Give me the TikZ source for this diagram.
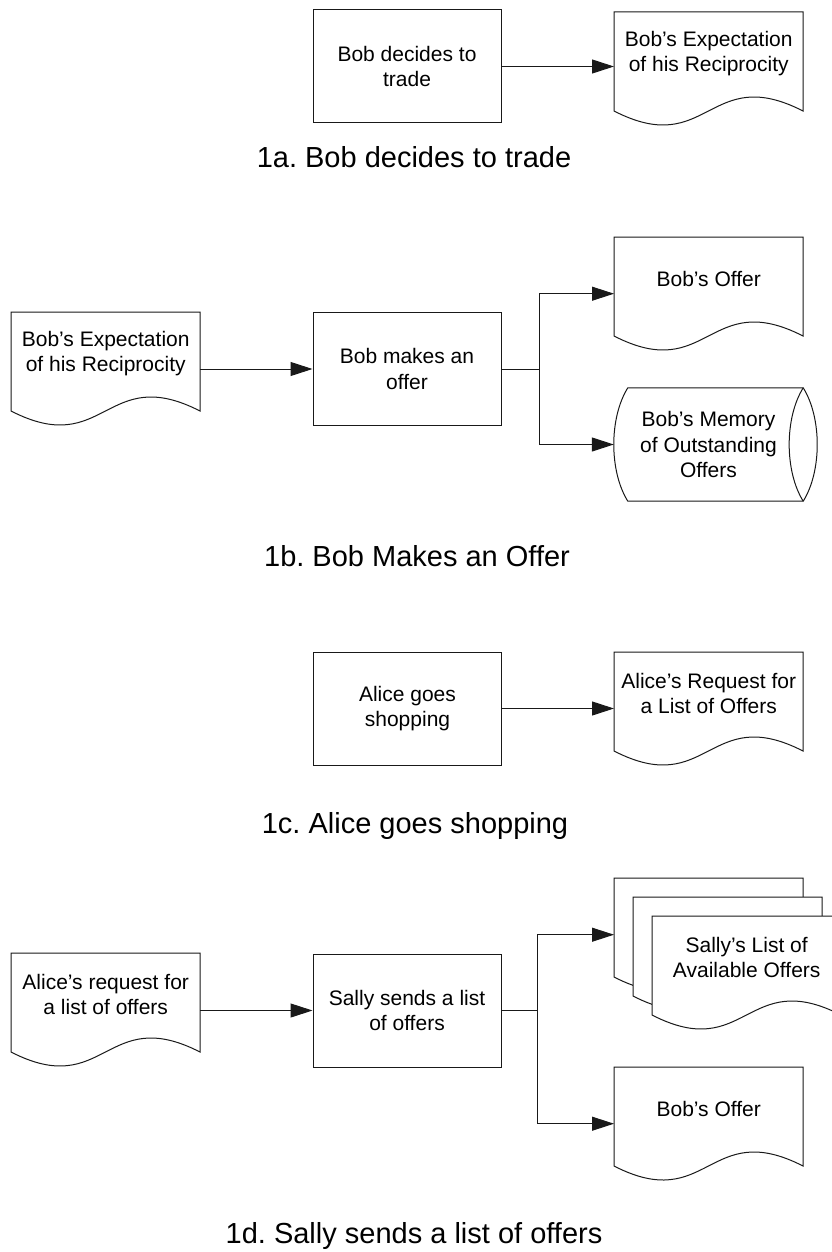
\documentclass[tikz,border=0pt]{standalone}
\usepackage{fontspec}
\setmainfont{Liberation Sans}
\usetikzlibrary{arrows.meta,calc}

\newcommand\shapefont{\fontsize{21}{25.5}\selectfont}
\newcommand\captionfont{\fontsize{29}{35}\selectfont}
% document sheet with a wavy bottom edge, top-left corner at #1
\newcommand\docsheet[1]{\path[outline, fill=white, shift={(#1)}]
  (0,0) -- (0,99) .. controls (94.5,147.5) and (94.5,50.5) .. (189,99) -- (189,0) -- cycle;}

\begin{document}
\frenchspacing
\begin{tikzpicture}[x=1pt,y=-1pt,
  outline/.style={draw=black!90, line width=1pt, line join=miter},
  procbox/.style={outline, rectangle, minimum width=188pt, minimum height=113pt,
    inner sep=2pt, align=center, font=\shapefont},
  doctext/.style={rectangle, anchor=north west, minimum width=189pt, minimum height=83pt,
    inner sep=0pt, align=center, font=\shapefont},
  drumtext/.style={rectangle, minimum width=189pt, minimum height=113pt,
    inner sep=0pt, align=center, font=\shapefont},
  flow/.style={draw=black!90, line width=1pt, -{Triangle[length=22pt,width=14pt]}},
  link/.style={draw=black!90, line width=1pt},
  caption/.style={anchor=base, font=\captionfont, inner sep=0pt},
]
\useasboundingbox (0,0) rectangle (831,1252);
\fill[white] (0,0) rectangle (831,1252);

% ---------- 1a ----------
\node[procbox] (decide) at (407,66.5) {Bob decides to\\trade};
\coordinate (e1) at (614,12);
\docsheet{e1}
\node[doctext] (expect1) at (e1) {Bob’s Expectation\\of his Reciprocity};
\draw[flow] (decide.east) -- (decide.east -| expect1.west);
\node[caption] (cap1) at (414,168) {1a. Bob decides to trade};

% ---------- 1b ----------
\coordinate (e2) at (11,312);
\docsheet{e2}
\node[doctext] (expect2) at (e2) {Bob’s Expectation\\of his Reciprocity};
\node[procbox] (make) at (407,369) {Bob makes an\\offer};
\draw[flow] (expect2.east |- make.west) -- (make.west);

\coordinate (o1) at (614,237);
\docsheet{o1}
\node[doctext] (offer1) at (o1) {Bob’s Offer};

\node[drumtext] (memory) at (708.5,444.5) {Bob’s Memory\\of Outstanding\\Offers};
\draw[outline] ([xshift=14pt]memory.north west) -- (memory.north east)
  .. controls +(18.7,30) and +(18.7,-30) .. (memory.south east)
  -- ([xshift=14pt]memory.south west)
  .. controls +(-18.7,-30) and +(-18.7,30) .. cycle;
\draw[outline] (memory.north east)
  .. controls +(-18.7,30) and +(-18.7,-30) .. (memory.south east);

\coordinate (fork1) at (539,369);
\draw[link] (make.east) -- (fork1);
\draw[flow] (fork1) |- ([yshift=-15pt]offer1.west);
\draw[flow] (fork1) |- (memory.west);
\node[caption] (cap2) at (417,566) {1b. Bob Makes an Offer};

% ---------- 1c ----------
\node[procbox] (shop) at (407.5,708.5) {Alice goes\\shopping};
\coordinate (r1) at (614,652);
\docsheet{r1}
\node[doctext] (request1) at (r1) {Alice’s Request for\\a List of Offers};
\draw[flow] (shop.east) -- (shop.east -| request1.west);
\node[caption] (cap3) at (415,833) {1c. Alice goes shopping};

% ---------- 1d ----------
\coordinate (r2) at (11,953);
\docsheet{r2}
\node[doctext] (request2) at (r2) {Alice’s request for\\a list of offers};
\node[procbox] (send) at (407,1010.5) {Sally sends a list\\of offers};
\draw[flow] (request2.east |- send.west) -- (send.west);

% stacked sheets, drawn back to front
\coordinate (l3) at (614,878);
\coordinate (l2) at (633,897);
\coordinate (l1) at (652,916);
\docsheet{l3}
\docsheet{l2}
\docsheet{l1}
\node[doctext] (listback) at (l3) {};
\node[doctext] (list) at (l1) {Sally’s List of\\Available Offers};

\coordinate (o2) at (614,1067);
\docsheet{o2}
\node[doctext] (offer2) at (o2) {Bob’s Offer};

\coordinate (fork2) at (537,1010.5);
\draw[link] (send.east) -- (fork2);
\draw[flow] (fork2) |- ([yshift=-15pt]listback.west);
\draw[flow] (fork2) |- ([yshift=-15pt]offer2.west);
\node[caption] (cap4) at (414,1243) {1d. Sally sends a list of offers};
\end{tikzpicture}
\end{document}
